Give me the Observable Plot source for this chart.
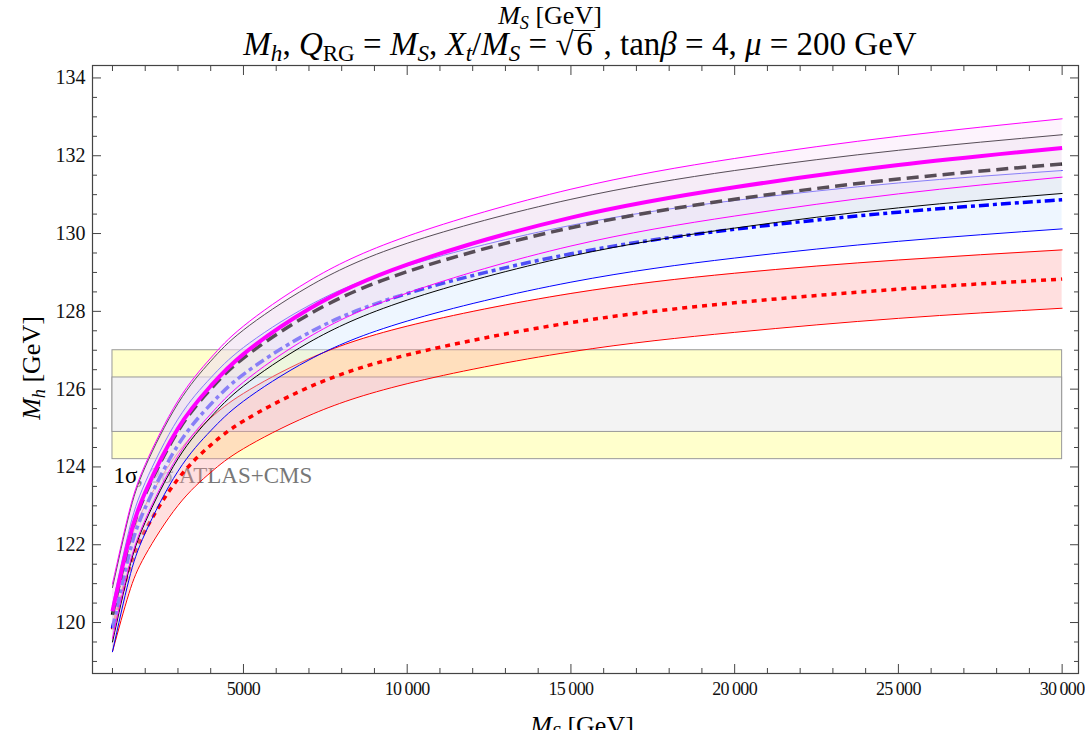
<!DOCTYPE html>
<html><head><meta charset="utf-8">
<script src="https://cdn.jsdelivr.net/npm/d3@7"></script>
<script src="https://cdn.jsdelivr.net/npm/@observablehq/plot@0.6"></script>
<style>
html,body{margin:0;padding:0;background:#fff;}
#wrap{position:relative;width:1085px;height:730px;overflow:hidden;font-family:"Liberation Serif","Times New Roman",serif;color:#000;}
#wrap svg{position:absolute;left:0;top:0;}
.lab{position:absolute;white-space:nowrap;line-height:1;}
.lab sub{font-size:0.7em;vertical-align:-0.25em;line-height:0;}
.rad{display:inline-block;border-top:1.5px solid #000;line-height:0.8em;padding:0 0.08em;}
</style></head><body><div id="wrap"></div>
<script>
// ---- data ----
const Ms = [1000, 1500, 2000, 3000, 4000, 5000, 7000, 10000, 15000, 20000, 25000, 30000];

const magentaMid = [120.29,122.12,123.35,124.99,126.08,126.90,128.06,129.20,130.41,131.19,131.76,132.20];
const magentaHi  = [120.99,122.82,124.06,125.70,126.80,127.62,128.78,129.93,131.14,131.93,132.50,132.95];
const magentaLo  = [119.59,121.42,122.64,124.28,125.36,126.18,127.34,128.47,129.68,130.45,131.02,131.45];

const blackMid = [120.20,122.05,123.29,124.92,126.00,126.80,127.92,129.02,130.15,130.88,131.40,131.79];
const blackHi  = [120.90,122.75,124.00,125.63,126.72,127.52,128.64,129.75,130.88,131.62,132.14,132.54];
const blackLo  = [119.50,121.35,122.58,124.21,125.28,126.08,127.20,128.29,129.42,130.14,130.66,131.03];

const blueMid = [119.85,121.72,122.95,124.56,125.61,126.38,127.45,128.46,129.48,130.11,130.55,130.87];
const blueHi  = [120.45,122.35,123.60,125.23,126.29,127.07,128.15,129.17,130.21,130.85,131.30,131.62];
const blueLo  = [119.25,121.09,122.30,123.89,124.93,125.69,126.75,127.75,128.75,129.37,129.80,130.12];

const redMid = [119.82,121.36,122.37,123.69,124.56,125.18,126.05,126.88,127.71,128.22,128.57,128.83];
const redHi  = [120.39,121.98,123.01,124.37,125.26,125.89,126.78,127.62,128.46,128.98,129.32,129.58];
const redLo  = [119.25,120.74,121.73,123.01,123.86,124.47,125.32,126.14,126.96,127.46,127.82,128.08];

// ATLAS+CMS bands (2 sigma outer, 1 sigma inner)
const expNames = ["2σ", "1σ"];
const expLo = [124.2, 124.9];
const expHi = [127.0, 126.3];
const expFill = ["#ffffcc", "#f3f3f3"];

const annX = [1000, 7100];
const annY = [123.78, 123.78];
const annText = ["1σ,", "2σ ATLAS+CMS"];
const annColor = ["#000", "#777"];

const xMajorTicks = [5000, 10000, 15000, 20000, 25000, 30000];
const xMinorTicks = [1000,2000,3000,4000,6000,7000,8000,9000,11000,12000,13000,14000,16000,17000,18000,19000,21000,22000,23000,24000,26000,27000,28000,29000];
const yMajorTicks = [120, 122, 124, 126, 128, 130, 132, 134];
const yMinorTicks = [119,119.5,120.5,121,121.5,122.5,123,123.5,124.5,125,125.5,126.5,127,127.5,128.5,129,129.5,130.5,131,131.5,132.5,133,133.5];

// ---- build ----
const rowsOf = (lo, mid, hi) => Ms.map((M, i) => ({M, lo: lo[i], mid: mid[i], hi: hi[i]}));
const curve = "natural";
function band(rows, color, fill, fo, midW, dash) {
  return [
    Plot.areaY(rows, {x: "M", y1: "lo", y2: "hi", fill, fillOpacity: fo, curve}),
    Plot.lineY(rows, {x: "M", y: "hi", stroke: color, strokeWidth: 1, curve}),
    Plot.lineY(rows, {x: "M", y: "lo", stroke: color, strokeWidth: 1, curve}),
    Plot.lineY(rows, {x: "M", y: "mid", stroke: color, strokeWidth: midW, strokeDasharray: dash, strokeLinecap: "butt", curve})
  ];
}
const expRows = expLo.map((lo, i) => ({name: expNames[i], lo, hi: expHi[i], fill: expFill[i], x1: Ms[0], x2: Ms[Ms.length - 1]}));
const annRows = annText.map((t, i) => ({x: annX[i], y: annY[i], t}));
const fmt = d => d >= 10000 ? String(d).replace(/(\d)(\d{3})$/, "$1\u2009$2") : String(d);
const tickStroke = "#444";

const chart = Plot.plot({
  width: 1085, height: 730,
  marginTop: 65, marginBottom: 57, marginLeft: 92, marginRight: 7,
  x: {domain: [390, 30500]},
  y: {domain: [118.69, 134.32]},
  style: {fontFamily: "'Liberation Serif', 'Times New Roman', serif", fontSize: "20px", background: "white", color: "black"},
  marks: [
    Plot.rect(expRows, {x1: "x1", x2: "x2", y1: "lo", y2: "hi", fill: "fill", stroke: "#999", strokeWidth: 1}),
    Plot.text(annRows.slice(0, 1), {x: "x", y: "y", text: "t", fill: annColor[0], textAnchor: "start", fontSize: 23, dx: 1}),
    Plot.text(annRows.slice(1), {x: "x", y: "y", text: "t", fill: annColor[1], textAnchor: "end", fontSize: 23}),
    ...band(rowsOf(redLo, redMid, redHi), "#ff0000", "#ff9f9f", 0.33, 3.5, "5,5"),
    ...band(rowsOf(blueLo, blueMid, blueHi), "#0000ff", "#cee5ff", 0.35, 3.5, "10,4,4,4"),
    ...band(rowsOf(blackLo, blackMid, blackHi), "#000000", "#e0e0e6", 0.35, 3.5, "12,6"),
    ...band(rowsOf(magentaLo, magentaMid, magentaHi), "#ff00ff", "#f8dcf8", 0.35, 4, null),
    Plot.frame({stroke: tickStroke, strokeWidth: 1.2}),
    Plot.axisX(xMajorTicks, {anchor: "bottom", tickSize: 0, tickPadding: 9, tickFormat: fmt, label: null, fill: "#111", fontSize: 18}),
    Plot.axisX(xMajorTicks, {anchor: "bottom", tickSize: -9, tickFormat: () => "", label: null, stroke: tickStroke}),
    Plot.axisX(xMinorTicks, {anchor: "bottom", tickSize: -5, tickFormat: () => "", label: null, stroke: tickStroke}),
    Plot.axisX(xMajorTicks, {anchor: "top", tickSize: -9, tickFormat: () => "", label: null, stroke: tickStroke}),
    Plot.axisX(xMinorTicks, {anchor: "top", tickSize: -5, tickFormat: () => "", label: null, stroke: tickStroke}),
    Plot.axisY(yMajorTicks, {anchor: "left", tickSize: 0, tickPadding: 7, label: null, fill: "#111"}),
    Plot.axisY(yMajorTicks, {anchor: "left", tickSize: -9, tickFormat: () => "", label: null, stroke: tickStroke}),
    Plot.axisY(yMinorTicks, {anchor: "left", tickSize: -5, tickFormat: () => "", label: null, stroke: tickStroke}),
    Plot.axisY(yMajorTicks, {anchor: "right", tickSize: -9, tickFormat: () => "", label: null, stroke: tickStroke}),
    Plot.axisY(yMinorTicks, {anchor: "right", tickSize: -5, tickFormat: () => "", label: null, stroke: tickStroke})
  ]
});
chart.querySelectorAll('g[aria-label="x-axis tick label"] text').forEach(t => t.style.letterSpacing = "-0.6px");
const wrap = document.getElementById("wrap");
wrap.appendChild(chart);

function addLabel(html, css) {
  const d = document.createElement("div");
  d.className = "lab";
  d.innerHTML = html;
  Object.assign(d.style, css);
  wrap.appendChild(d);
}
addLabel('<i>M</i><sub><i>S</i></sub> [GeV]', {left: "550px", top: "3px", fontSize: "26px", transform: "translateX(-50%)"});
addLabel('<i>M</i><sub><i>h</i></sub>, <i>Q</i><sub>RG</sub> = <i>M</i><sub><i>S</i></sub>, <i>X</i><sub><i>t</i></sub>/<i>M</i><sub><i>S</i></sub> = √<span class="rad">6</span> , tan<i>β</i> = 4, <i>μ</i> = 200 GeV',
  {left: "580px", top: "28px", fontSize: "33px", transform: "translateX(-50%)"});
addLabel('<i>M</i><sub><i>S</i></sub> [GeV]', {left: "582px", top: "713px", fontSize: "26px", transform: "translateX(-50%)"});
addLabel('<i>M</i><sub><i>h</i></sub> [GeV]', {left: "32px", top: "368px", fontSize: "26px", transform: "translate(-50%,-50%) rotate(-90deg)"});
</script></body></html>
